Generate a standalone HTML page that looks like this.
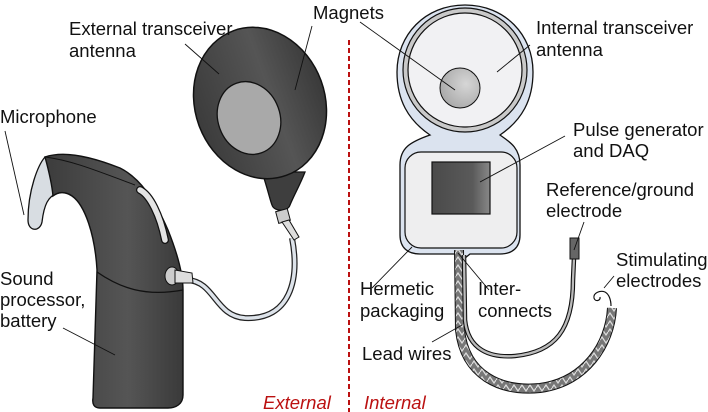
<!DOCTYPE html>
<html><head><meta charset="utf-8"><style>
html,body{margin:0;padding:0;background:#fff}
svg{display:block}
text{font-family:"Liberation Sans",Arial,sans-serif;font-size:18.5px;fill:#111}
</style></head><body>
<svg width="708" height="412" viewBox="0 0 708 412" xmlns="http://www.w3.org/2000/svg">
<defs>
<linearGradient id="dk" x1="0" y1="0" x2="1" y2="0">
<stop offset="0" stop-color="#3c3c3c"/><stop offset="0.6" stop-color="#555"/><stop offset="1" stop-color="#3a3a3a"/></linearGradient>
<radialGradient id="mg" cx="0.65" cy="0.4" r="0.7"><stop offset="0" stop-color="#d6d6d6"/><stop offset="1" stop-color="#a8a8a8"/></radialGradient>
<linearGradient id="sq" x1="0" y1="0" x2="1" y2="0"><stop offset="0" stop-color="#4a4a4a"/><stop offset="0.7" stop-color="#5a5a5a"/><stop offset="1" stop-color="#888"/></linearGradient>
<pattern id="br" width="8" height="8" patternUnits="userSpaceOnUse"><rect width="8" height="8" fill="#777"/><path d="M0 4 L2 1 L4 4 L6 7 L8 4" stroke="#ddd" stroke-width="1.2" fill="none"/></pattern>
</defs>

<line x1="349" y1="40" x2="349" y2="412" stroke="#b11" stroke-width="2" stroke-dasharray="5,3"/>

<path d="M292 238 C300 280 290 320 245 318 C215 316 215 282 188 280" stroke="#222" stroke-width="6" fill="none"/>
<path d="M292 238 C300 280 290 320 245 318 C215 316 215 282 188 280" stroke="#dde3ea" stroke-width="3.5" fill="none"/>

<path d="M45 157 C38 165 28 190 28 220 C28 232 40 232 42 222 C44 205 48 196 58 193 L48 160 Z" fill="#d8dde2" stroke="#111" stroke-width="1.3"/>
<path d="M45 157 C65 150 95 158 120 168 C140 178 155 200 168 230 C178 255 183 275 183 290 L183 395 C183 404 176 408 168 408 L100 408 C94 408 92 404 93 398 L97 270 C95 235 85 205 72 196 C65 191 58 192 53 196 C52 185 48 168 45 157 Z" fill="url(#dk)" stroke="#111" stroke-width="1.4"/>
<path d="M97 272 C120 288 145 297 183 290" stroke="#111" stroke-width="1.3" fill="none"/>
<path d="M45 157 C70 160 95 170 135 185" stroke="#111" stroke-width="1" fill="none"/>
<path d="M140 190 C150 195 160 215 165 240" stroke="#111" stroke-width="8" stroke-linecap="round" fill="none"/>
<path d="M140 190 C150 195 160 215 165 240" stroke="#e4e4e4" stroke-width="5.5" stroke-linecap="round" fill="none"/>
<ellipse cx="172" cy="276" rx="7" ry="9" fill="#ccc" stroke="#111"/>
<path d="M175 270 L192 273 L193 283 L175 283 Z" fill="#ddd" stroke="#111"/>

<path d="M262 172 C268 190 270 200 272 205 C274 212 288 212 290 205 C294 195 300 185 305 172 Z" fill="#3e3e3e" stroke="#111" stroke-width="1.3"/>
<rect x="277" y="210" width="12" height="12" fill="#ccc" stroke="#111" transform="rotate(-15 283 216)"/>
<path d="M282 222 L294 240 L299 237 L289 220 Z" fill="#ddd" stroke="#111"/>
<ellipse cx="260" cy="103" rx="65" ry="77" fill="url(#dk)" stroke="#111" stroke-width="1.5" transform="rotate(-20 260 103)"/>
<ellipse cx="249" cy="118" rx="31" ry="37" fill="#a9a9a9" stroke="#111" stroke-width="1.3" transform="rotate(-20 249 118)"/>

<path d="M465 5 C505 5 533 35 533 72 C533 100 522 120 500 135 C510 142 520 148 520 165 L520 235 C520 248 512 254 500 254 L470 254 L465 258 L460 254 L420 254 C408 254 400 248 400 235 L400 165 C400 148 410 142 430 135 C408 120 397 100 397 72 C397 35 425 5 465 5 Z" fill="#dbe3ef" stroke="#111" stroke-width="1.3"/>
<circle cx="465" cy="70" r="62" fill="#c9c9c9" stroke="#111" stroke-width="1.2"/>
<circle cx="465" cy="70" r="57" fill="#f1f1f3" stroke="#111" stroke-width="1.2"/>
<circle cx="460" cy="88" r="20" fill="url(#mg)" stroke="#111" stroke-width="1"/>
<rect x="405" y="152" width="112" height="96" rx="16" fill="#eeeeef" stroke="#111" stroke-width="1.2"/>
<rect x="432" y="162" width="58" height="52" fill="url(#sq)" stroke="#111" stroke-width="1.2"/>

<path d="M459 250 L460 330 C465 375 500 392 540 388 C585 382 610 345 612 308" stroke="#111" stroke-width="10" fill="none"/>
<path d="M459 250 L460 330 C465 375 500 392 540 388 C585 382 610 345 612 308" stroke="url(#br)" stroke-width="8" fill="none"/>
<path d="M464 255 L465 320 C468 350 490 358 515 356 C555 352 573 330 573 280 L574 258" stroke="#111" stroke-width="4.5" fill="none"/>
<path d="M464 255 L465 320 C468 350 490 358 515 356 C555 352 573 330 573 280 L574 258" stroke="#bbb" stroke-width="2.3" fill="none"/>
<rect x="570" y="238" width="9" height="21" fill="#666" stroke="#111"/>
<path d="M611 306 C611 300 609 294 605 292 C600 290 593 293 594 298 C595 302 601 301 600 297" stroke="#111" stroke-width="1.2" fill="none"/>

<g stroke="#111" stroke-width="0.9" fill="none">
<line x1="185" y1="44" x2="219" y2="74"/>
<line x1="360" y1="22" x2="455" y2="90"/>
<line x1="312" y1="26" x2="295" y2="90"/>
<line x1="530" y1="45" x2="497" y2="72"/>
<line x1="5" y1="131" x2="24" y2="215"/>
<line x1="63" y1="328" x2="115" y2="355"/>
<line x1="565" y1="136" x2="480" y2="182"/>
<line x1="584" y1="222" x2="574" y2="250"/>
<line x1="614" y1="276" x2="604" y2="288"/>
<line x1="372" y1="288" x2="412" y2="247"/>
<line x1="489" y1="290" x2="458" y2="253"/>
<line x1="432" y1="342" x2="462" y2="325"/>
</g>

<text x="69" y="35">External transceiver</text>
<text x="69" y="57">antenna</text>
<text x="313" y="19">Magnets</text>
<text x="0" y="123">Microphone</text>
<text x="0" y="285">Sound</text>
<text x="0" y="306">processor,</text>
<text x="0" y="327">battery</text>
<text x="536" y="34">Internal transceiver</text>
<text x="536" y="56">antenna</text>
<text x="573" y="136">Pulse generator</text>
<text x="573" y="157">and DAQ</text>
<text x="546" y="196">Reference/ground</text>
<text x="546" y="217">electrode</text>
<text x="616" y="266">Stimulating</text>
<text x="616" y="287">electrodes</text>
<text x="360" y="295">Hermetic</text>
<text x="360" y="317">packaging</text>
<text x="478" y="295">Inter-</text>
<text x="478" y="317">connects</text>
<text x="362" y="360">Lead wires</text>
<text x="263" y="409" style="fill:#b11;font-style:italic">External</text>
<text x="364" y="409" style="fill:#b11;font-style:italic">Internal</text>
</svg>
</body></html>
